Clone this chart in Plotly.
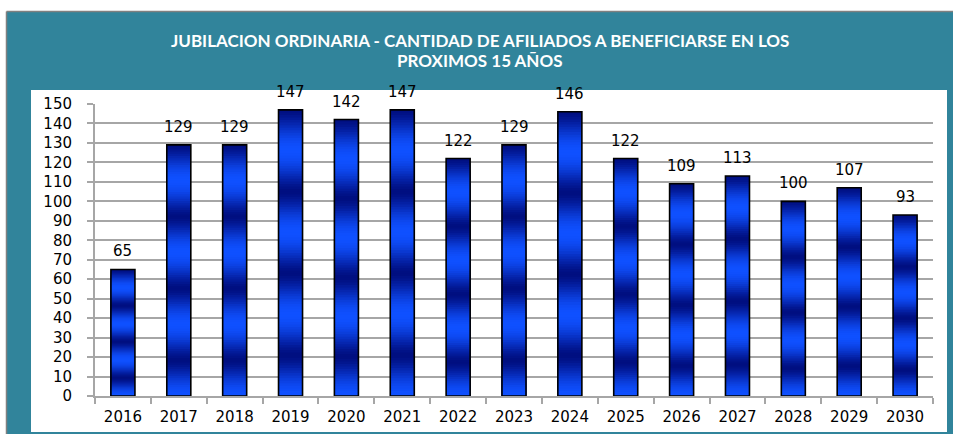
import plotly.graph_objects as go
import math

# ---- data ----
years = ["2016", "2017", "2018", "2019", "2020", "2021", "2022", "2023",
         "2024", "2025", "2026", "2027", "2028", "2029", "2030"]
afiliados = [65, 129, 129, 147, 142, 147, 122, 129, 146, 122, 109, 113, 100, 107, 93]
title_lines = ["JUBILACION ORDINARIA - CANTIDAD DE AFILIADOS A BENEFICIARSE EN LOS",
               "PROXIMOS 15 AÑOS"]

# ---- layout geometry (pixels) ----
W, H = 953, 434
L, R, T, B = 95, 20, 104, 38
PW, PH = W - L - R, H - T - B

def xp(px):
    return (px - L) / PW

def yp(py):
    return (H - B - py) / PH

TEAL = "#31849b"
GRID = "#a6a6a6"
DARK = (0, 14, 128)
LIGHT = (15, 80, 255)

N = 112
CYCLES = 3.5

fig = go.Figure()

# gradient bars: nested bars from 0 up to a growing fraction of each value,
# drawn largest first so each colour band sits on an opaque layer (no seams)
for i in reversed(range(N)):
    t = (i + 0.5) / N
    k = ((1 + math.cos(2 * math.pi * CYCLES * t)) / 2) ** 0.75
    c = tuple(round(DARK[j] + (LIGHT[j] - DARK[j]) * k) for j in range(3))
    col = "rgb(%d,%d,%d)" % c
    fig.add_trace(go.Bar(
        x=years,
        y=[v * (i + 1) / N for v in afiliados],
        base=[0] * len(afiliados),
        marker=dict(color=col, line=dict(width=0)),
        hoverinfo="skip",
        showlegend=False,
    ))

# bar outlines
fig.add_trace(go.Bar(
    x=years, y=afiliados, base=[0] * len(afiliados),
    marker=dict(color="rgba(0,0,0,0)", line=dict(color="#000000", width=1.6)),
    hovertemplate="%{x}: %{y}<extra></extra>",
    showlegend=False,
))

# value labels (x given as category index)
for idx, v in enumerate(afiliados):
    fig.add_annotation(x=idx, y=v, xref="x", yref="y", text=str(v), showarrow=False,
                       yshift=18, yanchor="middle",
                       font=dict(family="DejaVu Sans, Verdana, sans-serif",
                                 size=15, color="#000000"))

# title lines
for line, py in zip(title_lines, [41, 61]):
    fig.add_annotation(x=xp(480), y=yp(py), xref="paper", yref="paper",
                       text="<b>" + line + "</b>", showarrow=False,
                       xanchor="center", yanchor="middle",
                       font=dict(family="Lato, Carlito, sans-serif", size=17,
                                 color="#ffffff"))

shapes = [
    dict(type="rect", xref="paper", yref="paper", layer="below",
         x0=xp(7), x1=xp(953), y0=yp(12), y1=yp(434),
         fillcolor=TEAL, line=dict(width=0)),
    dict(type="rect", xref="paper", yref="paper", layer="below",
         x0=xp(31), x1=xp(947), y0=yp(90), y1=yp(432),
         fillcolor="#ffffff", line=dict(width=0)),
    dict(type="line", xref="paper", yref="paper", layer="below",
         x0=xp(6.5), x1=xp(6.5), y0=yp(11.5), y1=yp(434),
         line=dict(color="#808080", width=1.5)),
    dict(type="line", xref="paper", yref="paper", layer="below",
         x0=xp(6.5), x1=xp(953), y0=yp(11.5), y1=yp(11.5),
         line=dict(color="#808080", width=1.5)),
]

fig.update_layout(
    width=W, height=H,
    margin=dict(l=L, r=R, t=T, b=B, pad=0, autoexpand=False),
    paper_bgcolor="#ffffff",
    plot_bgcolor="rgba(0,0,0,0)",
    barmode="overlay",
    bargap=0.57,
    shapes=shapes,
    font=dict(family="DejaVu Sans, Verdana, sans-serif", size=15, color="#000000"),
    xaxis=dict(type="category", range=[-0.5, len(years) - 0.5], autorange=False,
               showgrid=False, showline=True,
               linecolor=GRID, linewidth=2, ticks="outside", ticklen=6,
               tickcolor=GRID, tickwidth=1.5, tickson="boundaries",
               tickangle=0, automargin=False,
               ticklabelstandoff=6, tickfont=dict(size=15)),
    yaxis=dict(range=[0, 150], dtick=10, showgrid=True, gridcolor=GRID,
               gridwidth=2, showline=True, linecolor=GRID, linewidth=2,
               ticks="outside", ticklen=6, tickcolor=GRID, tickwidth=1.5,
               automargin=False,
               ticklabelstandoff=12, tickfont=dict(size=15), zeroline=False),
)

fig.write_html("out.html",
               config={"displayModeBar": False},
               post_script="document.body.style.margin='0';"
                           "document.body.style.overflow='hidden';")
